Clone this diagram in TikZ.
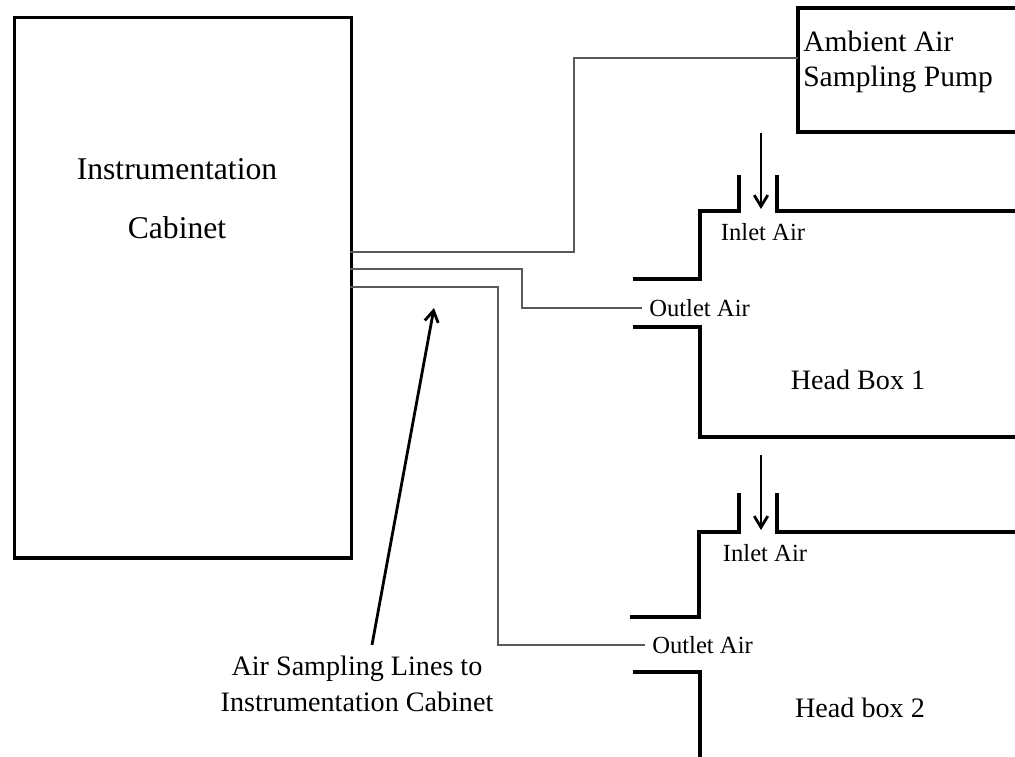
\documentclass[tikz,border=0pt]{standalone}
\usepackage{fontspec}
\setmainfont{Liberation Serif}
\usetikzlibrary{positioning,arrows.meta}

\begin{document}
\begin{tikzpicture}[x=0.025cm,y=-0.025cm,>={Straight Barb[length=2.8mm,width=3.4mm,line width=2pt]},
  wall/.style={line width=2.4pt},
  sample/.style={draw=black!65,line width=1.1pt},
  flow/.style={->,line width=2pt},
  lbl/.style={inner sep=0pt,font=\fontsize{17.5}{21}\selectfont}]
\useasboundingbox (0,0) rectangle (1015,757);
% cabinet and pump
\node[draw,wall,anchor=north west,minimum width=8.425cm,minimum height=13.5cm] (cab) at (13,16) {};
\node[align=center,font=\fontsize{22.5}{42}\selectfont] (cabtxt) at (177,199) {Instrumentation\\Cabinet};
\draw[wall] (1015,8) -- (798,8) -- (798,132) -- (1015,132);
\node[align=left,anchor=west,inner sep=0pt,font=\fontsize{21}{25}\selectfont] (pump) at (803,62) {Ambient Air\\Sampling Pump};
% head box 1
\draw[wall] (633,279) -- (700,279) -- (700,211) -- (739,211) -- (739,175);
\draw[wall] (777,175) -- (777,211) -- (1015,211);
\draw[wall] (633,327) -- (700,327) -- (700,437) -- (1015,437);
\coordinate (in1) at (761,133);
\coordinate (in1e) at (761,209);
\draw[flow] (in1) -- (in1e);
\node[lbl] (inlet1) at (763,232) {Inlet Air};
\node[lbl,anchor=west,inner xsep=5pt] (out1) at (642,308) {Outlet Air};
\node[font=\fontsize{20}{24}\selectfont] (hb1) at (858,380) {Head Box 1};
% head box 2
\draw[wall] (630,617) -- (699,617) -- (699,532) -- (739,532) -- (739,493);
\draw[wall] (777,493) -- (777,532) -- (1015,532);
\draw[wall] (633,672) -- (700,672) -- (700,757);
\coordinate (in2) at (761,455);
\coordinate (in2e) at (761,530);
\draw[flow] (in2) -- (in2e);
\node[lbl] (inlet2) at (765,553) {Inlet Air};
\node[lbl,anchor=west,inner xsep=5pt] (out2) at (645,645) {Outlet Air};
\node[font=\fontsize{20}{24}\selectfont] (hb2) at (860,708) {Head box 2};
% sampling lines
\coordinate (s0) at (350,252);
\coordinate (s1) at (350,269);
\coordinate (s2) at (350,287);
\coordinate (pumpin) at (798,58);
\draw[sample] (s0) -- (574,252) -- (574,58) -- (pumpin);
\draw[sample] (s1) -- (522,269) -- (522,308) -- (out1.west);
\draw[sample] (s2) -- (498,287) -- (498,645) -- (out2.west);
% note
\node[align=center,font=\fontsize{20}{26}\selectfont] (note) at (357,684) {Air Sampling Lines to\\Instrumentation Cabinet};
\coordinate (tip) at (434,308);
\draw[flow] ([xshift=0.375cm,yshift=0.15cm]note.north) -- (tip);
\end{tikzpicture}
\end{document}
